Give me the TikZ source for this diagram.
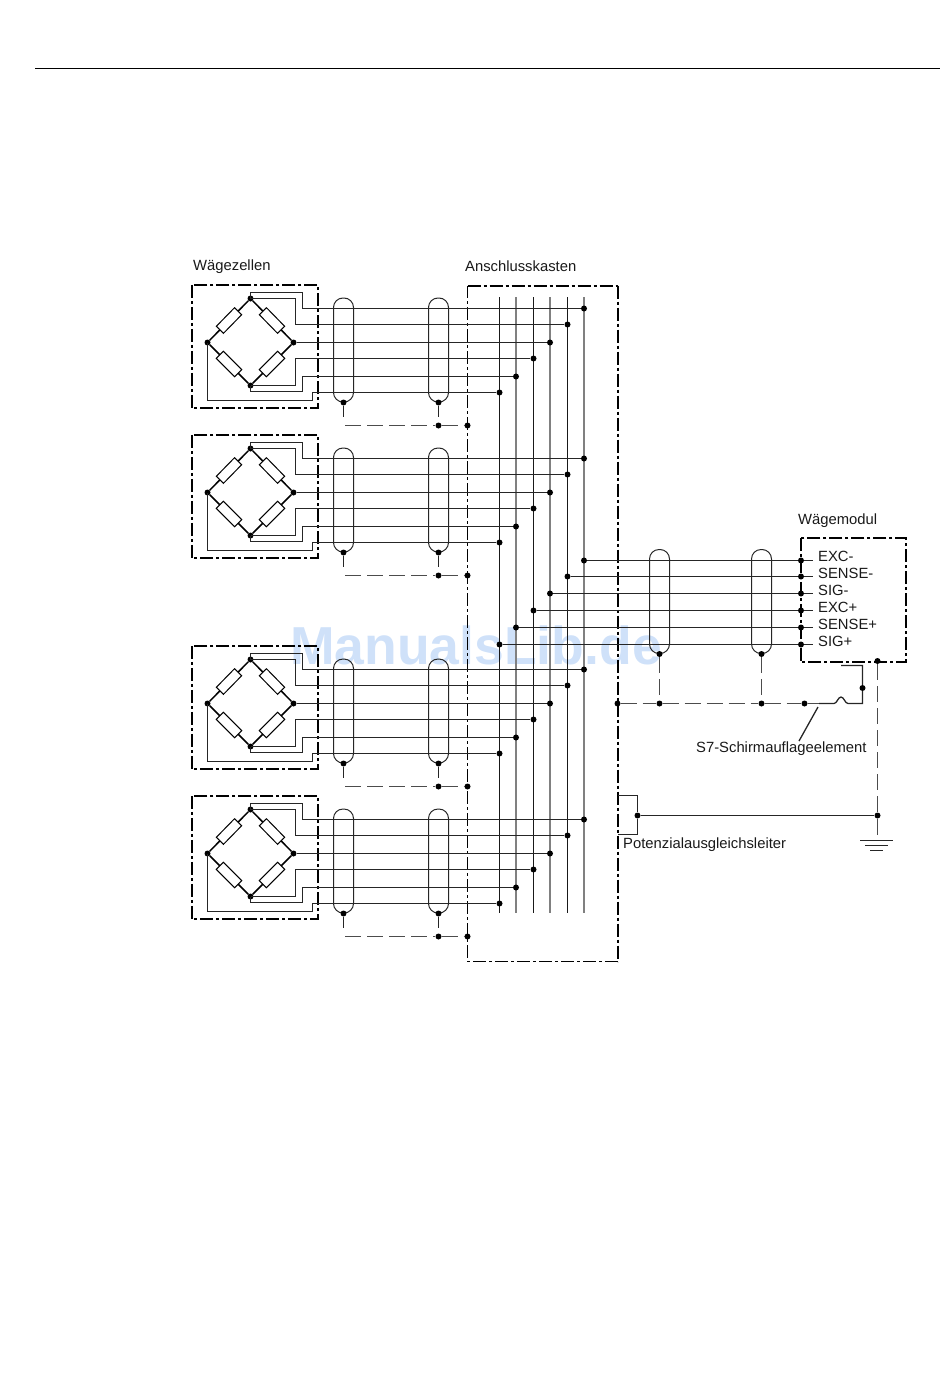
\documentclass[tikz,border=0pt]{standalone}
\usepackage{fontspec}
\setmainfont{Liberation Sans}
\definecolor{markblue}{HTML}{CFE1F9}
\tikzset{
    dot/.style={circle, fill=black, inner sep=0pt, minimum size=6pt},
    wire/.style={black!85, line width=1.3pt},
    edgeline/.style={black, line width=1.5pt},
    graybus/.style={black!50, line width=1.2pt},
    darkbus/.style={black!90, line width=1.2pt},
    cellbox/.style={draw, line width=1.8pt, dash pattern=on 13pt off 3pt on 3pt off 3pt},
    resistor/.style={draw, fill=white, rectangle, sloped, line width=1pt, minimum width=26pt, minimum height=10pt, inner sep=0pt},
    capsule/.style={draw, black!85, rectangle, rounded corners=9.5pt, line width=1pt, minimum width=20pt, minimum height=104pt, inner sep=0pt},
    longdash/.style={black!70, line width=1.1pt, dash pattern=on 16pt off 6pt},
    label/.style={anchor=base west, inner sep=0pt, font=\fontsize{14.8pt}{16pt}\selectfont, text=black!90},
}
\begin{document}
\begin{tikzpicture}[x=1pt, y=-1pt]
    \useasboundingbox (0,0) rectangle (950,1397);
    \node[inner sep=0pt, text=markblue, font=\bfseries\fontsize{53.5pt}{55pt}\selectfont] (watermark) at (476,645) {ManualsLib.de};
    \coordinate (ruleL) at (35,68.5);
    \coordinate (ruleR) at (940,68.5);
    \draw[line width=1pt] (ruleL) -- (ruleR);
    % junction box and bus
    \coordinate (boxNW) at (467.5,285.5);
    \coordinate (boxNE) at (617.5,285.5);
    \coordinate (boxSE) at (617.5,961.5);
    \coordinate (boxSW) at (467.5,961.5);
    \draw[line width=2pt, dash pattern=on 13pt off 3pt on 3pt off 3pt] (boxNW) -- (boxNE);
    \draw[line width=2pt, dash pattern=on 13pt off 3pt on 3pt off 3pt] (boxNE) -- (boxSE);
    \draw[line width=1.3pt, dash pattern=on 13pt off 3pt on 3pt off 3pt] (boxSE) -- (boxSW) -- (boxNW);
    \foreach \n/\x/\kind in {1/584/graybus, 2/567.5/darkbus, 3/550/graybus, 4/533.5/darkbus, 5/516/graybus, 6/499.5/darkbus} {
        \coordinate (busT\n) at (\x,297);
        \coordinate (busB\n) at (\x,913);
        \draw[\kind] (busT\n) -- (busB\n);
    }
    % load cells
    \foreach \cell/\dy in {a/0, b/150, c/361, d/511} {
        \begin{scope}[shift={(0,\dy)}]
            \node[minimum width=126pt, minimum height=123pt, inner sep=0pt] (cell\cell) at (255,346.5) {};
            \draw[cellbox] (cell\cell.north west) rectangle (cell\cell.south east);
            \node[dot] (top\cell) at (250.5,298.5) {};
            \node[dot] (left\cell) at (207.5,342.5) {};
            \node[dot] (right\cell) at (293.5,342.5) {};
            \node[dot] (bot\cell) at (250.5,385.5) {};
            \draw[edgeline] (top\cell) -- node[resistor] (ra\cell) {} (left\cell);
            \draw[edgeline] (top\cell) -- node[resistor] (rb\cell) {} (right\cell);
            \draw[edgeline] (left\cell) -- node[resistor] (rc\cell) {} (bot\cell);
            \draw[edgeline] (bot\cell) -- node[resistor] (rd\cell) {} (right\cell);
            \node[dot] (j1\cell) at (584,308.5) {};
            \node[dot] (j2\cell) at (567.5,324.5) {};
            \node[dot] (j3\cell) at (550,342.5) {};
            \node[dot] (j4\cell) at (533.5,358.5) {};
            \node[dot] (j5\cell) at (516,376.5) {};
            \node[dot] (j6\cell) at (499.5,392.5) {};
            \draw[wire] (top\cell.center) |- ++(52,-6) |- (j1\cell);
            \draw[wire] (top\cell.center) -- ++(45,0) |- (j2\cell);
            \draw[wire] (right\cell) -- (j3\cell);
            \draw[wire] (bot\cell.center) -- ++(45,0) |- (j4\cell);
            \draw[wire] (bot\cell.center) |- ++(52,6) |- (j5\cell);
            \draw[wire] (left\cell.center) |- ++(105,58) |- (j6\cell);
            % cable shields
            \node[capsule] (sa\cell) at (343.5,350) {};
            \node[capsule] (sb\cell) at (438.5,350) {};
            \node[dot] (sad\cell) at (sa\cell.south) {};
            \node[dot] (sbd\cell) at (sb\cell.south) {};
            \coordinate (sae\cell) at (345,425.5);
            \node[dot] (sbe\cell) at (438.5,425.5) {};
            \node[dot] (gnd\cell) at (467.5,425.5) {};
            \draw[wire] (sad\cell) -- ++(0,14);
            \draw[wire] (sbd\cell) -- ++(0,14);
            \draw[longdash] (sae\cell) -- (sbe\cell) -- (gnd\cell);
        \end{scope}
    }
    % weighing module
    \node[minimum width=105pt, minimum height=124pt, inner sep=0pt] (modul) at (853.5,600) {};
    \draw[cellbox] (modul.north west) rectangle (modul.south east);
    \foreach \n/\y/\x/\txt/\base in {1/560.5/584/EXC-/561.5, 2/576.5/567.5/SENSE-/578, 3/593.5/550/SIG-/595.5, 4/610.5/533.5/EXC+/612, 5/627.5/516/SENSE+/629, 6/644.5/499.5/SIG+/646} {
        \node[dot] (ms\n) at (\x,\y) {};
        \node[dot] (me\n) at (801,\y) {};
        \coordinate (mt\n) at (813,\y);
        \draw[wire] (ms\n) -- (me\n) -- (mt\n);
        \node[label] (sig\n) at (818,\base) {\txt};
    }
    \node[capsule] (sc) at (659.5,601.5) {};
    \node[capsule] (sd) at (761.5,601.5) {};
    \node[dot] (scd) at (sc.south) {};
    \node[dot] (sdd) at (sd.south) {};
    \node[dot] (pe) at (617.5,703.5) {};
    \node[dot] (sce) at (659.5,703.5) {};
    \node[dot] (sde) at (761.5,703.5) {};
    \node[dot] (fuseL) at (804.5,703.5) {};
    \coordinate (fuseR) at (819,703.5);
    \draw[longdash] (scd) -- (sce);
    \draw[longdash] (sdd) -- (sde);
    \draw[longdash] (pe) -- (sce) -- (sde) -- (fuseL) -- (fuseR);
    \node[dot] (fuseT) at (862.5,688) {};
    \coordinate (fuseE) at (841,665.5);
    \draw[wire] (fuseR) -- (834,703.5) .. controls (837,703.5) and (838,697) .. (841,697) .. controls (844,697) and (845,703.5) .. (848,703.5) -| (fuseT) |- (fuseE);
    \coordinate (leadA) at (818,707);
    \coordinate (leadB) at (799,741);
    \draw[wire] (leadA) -- (leadB);
    % earth
    \node[dot] (modE) at (877.5,661) {};
    \node[dot] (earth) at (877.5,815.5) {};
    \coordinate (earthE) at (877.5,835);
    \draw[longdash] (modE) -- (earth) -- (earthE);
    \node[dot] (peT) at (637.5,815.5) {};
    \coordinate (peA) at (617.5,795.5);
    \coordinate (peB) at (617.5,834.5);
    \draw[wire] (peA) -| (peT) |- (peB);
    \draw[wire] (peT) -- (earth);
    \coordinate (g1L) at (860,840.5);
    \coordinate (g1R) at (893,840.5);
    \coordinate (g2L) at (865,845.5);
    \coordinate (g2R) at (888,845.5);
    \coordinate (g3L) at (870,850.5);
    \coordinate (g3R) at (883,850.5);
    \draw[wire] (g1L) -- (g1R);
    \draw[wire] (g2L) -- (g2R);
    \draw[wire] (g3L) -- (g3R);
    % labels
    \node[label] (lcells) at (193,270) {Wägezellen};
    \node[label] (lbox) at (465,271) {Anschlusskasten};
    \node[label] (lmod) at (798,524) {Wägemodul};
    \node[label] (lshield) at (696,752) {S7-Schirmauflageelement};
    \node[label] (lpot) at (623,848) {Potenzialausgleichsleiter};
\end{tikzpicture}
\end{document}
